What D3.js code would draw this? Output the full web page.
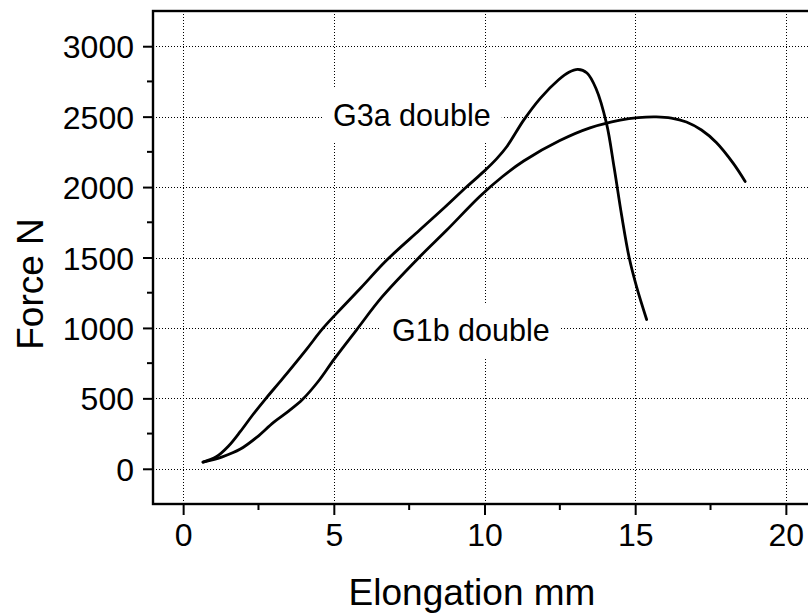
<!DOCTYPE html>
<html>
<head>
<meta charset="utf-8">
<script src="https://cdn.jsdelivr.net/npm/d3@7"></script>
<style>
  body { margin: 0; background: #fff; }
  svg { display: block; font-family: Arial, "Liberation Sans", Helvetica, sans-serif; }
</style>
</head>
<body>
<svg id="chart"></svg>
<script>
// elongation (mm) / force (N)
const g3aX = [0.66, 1.1, 1.5, 1.9, 2.3, 2.75, 3.3, 4.1, 4.65, 5.3, 5.9, 6.75, 7.85, 8.7, 9.4, 10.0, 10.4, 10.75, 11.3, 11.85, 12.45, 12.8, 13.1, 13.4, 13.7, 14.05, 14.3, 14.55, 14.8, 15.05, 15.38];
const g3aY = [47, 85, 160, 265, 380, 500, 640, 850, 1000, 1150, 1285, 1480, 1695, 1860, 2000, 2115, 2200, 2290, 2475, 2630, 2760, 2815, 2835, 2810, 2700, 2450, 2140, 1800, 1500, 1290, 1060];
const g1bX = [0.66, 1.3, 1.9, 2.45, 3.0, 3.5, 3.95, 4.5, 5.0, 5.75, 6.6, 7.85, 8.75, 9.85, 10.6, 11.3, 12.5, 13.5, 14.5, 15.1, 15.7, 16.2, 16.7, 17.2, 17.7, 18.25, 18.65];
const g1bY = [47, 85, 140, 225, 330, 410, 490, 625, 775, 985, 1220, 1505, 1695, 1935, 2075, 2185, 2330, 2420, 2475, 2493, 2498, 2490, 2462, 2405, 2315, 2170, 2040];

const xTicks = [0, 5, 10, 15, 20];
const xMinor = [2.5, 7.5, 12.5, 17.5];
const yTicks = [0, 500, 1000, 1500, 2000, 2500, 3000];
const yMinor = [250, 750, 1250, 1750, 2250, 2750];

const curveLabels = ["G3a double", "G1b double"];
const xTitle = "Elongation mm";
const yTitle = "Force N";

const width = 808, height = 616;
const svg = d3.select("#chart").attr("width", width).attr("height", height);

const x = d3.scaleLinear().domain([-1, 21]).range([153, 816]);
const y = d3.scaleLinear().domain([-250, 3250]).range([504, 11]);

// dotted grid
const grid = svg.append("g")
  .attr("stroke", "#000")
  .attr("stroke-width", 1)
  .attr("stroke-dasharray", "1,2");

grid.selectAll(".vg").data(xTicks).join("line")
  .attr("x1", d => Math.round(x(d)) + 0.5).attr("x2", d => Math.round(x(d)) + 0.5)
  .attr("y1", y.range()[1]).attr("y2", y.range()[0]);

grid.selectAll(".hg").data(yTicks).join("line")
  .attr("y1", d => Math.round(y(d)) + 0.5).attr("y2", d => Math.round(y(d)) + 0.5)
  .attr("x1", x.range()[0]).attr("x2", x.range()[1]);

// curves
const line = d3.line()
  .x(d => x(d[0]))
  .y(d => y(d[1]))
  .curve(d3.curveCatmullRom.alpha(0.5));

const series = [d3.zip(g3aX, g3aY), d3.zip(g1bX, g1bY)];

svg.selectAll(".curve").data(series).join("path")
  .attr("fill", "none")
  .attr("stroke", "#000")
  .attr("stroke-width", 2.8)
  .attr("stroke-linecap", "round")
  .attr("stroke-linejoin", "round")
  .attr("d", line);

// labels with white boxes over the grid
const labelPos = [[333, 126], [392, 341]];
curveLabels.forEach((t, i) => {
  const g = svg.append("g");
  const txt = g.append("text")
    .attr("x", labelPos[i][0])
    .attr("y", labelPos[i][1])
    .attr("font-size", 30.5)
    .attr("fill", "#000")
    .text(t);
  const bb = txt.node().getBBox();
  g.insert("rect", "text")
    .attr("x", bb.x - 11)
    .attr("y", bb.y - 10)
    .attr("width", bb.width + 22)
    .attr("height", bb.height + 20)
    .attr("fill", "#fff");
});

// axes
const xAxis = d3.axisBottom(x).tickValues(xTicks).tickSize(11).tickPadding(8).tickFormat(d3.format("d"));
const yAxis = d3.axisLeft(y).tickValues(yTicks).tickSize(10).tickPadding(9).tickFormat(d3.format("d"));

const gx = svg.append("g").attr("transform", `translate(0,${y.range()[0]})`).call(xAxis);
const gy = svg.append("g").attr("transform", `translate(${x.range()[0]},0)`).call(yAxis);

[gx, gy].forEach(g => {
  g.attr("font-size", null).attr("font-family", null);
  g.select(".domain").remove();
  g.selectAll(".tick line").attr("stroke", "#000").attr("stroke-width", 2);
  g.selectAll(".tick text").attr("font-size", 32).attr("fill", "#000");
});
gy.selectAll(".tick text").attr("dy", "0.36em");

gx.selectAll(".minor").data(xMinor).join("line")
  .attr("x1", d => x(d)).attr("x2", d => x(d))
  .attr("y1", 0).attr("y2", 6)
  .attr("stroke", "#000").attr("stroke-width", 2);

gy.selectAll(".minor").data(yMinor).join("line")
  .attr("y1", d => y(d)).attr("y2", d => y(d))
  .attr("x1", 0).attr("x2", -6)
  .attr("stroke", "#000").attr("stroke-width", 2);

// frame
svg.append("rect")
  .attr("x", x.range()[0]).attr("y", y.range()[1])
  .attr("width", x.range()[1] - x.range()[0])
  .attr("height", y.range()[0] - y.range()[1])
  .attr("fill", "none")
  .attr("stroke", "#000")
  .attr("stroke-width", 2.4);

// axis titles
svg.append("text")
  .attr("x", 472).attr("y", 605)
  .attr("text-anchor", "middle")
  .attr("font-size", 37)
  .text(xTitle);

svg.append("text")
  .attr("transform", "translate(43,284) rotate(-90)")
  .attr("text-anchor", "middle")
  .attr("font-size", 37)
  .text(yTitle);
</script>
</body>
</html>
